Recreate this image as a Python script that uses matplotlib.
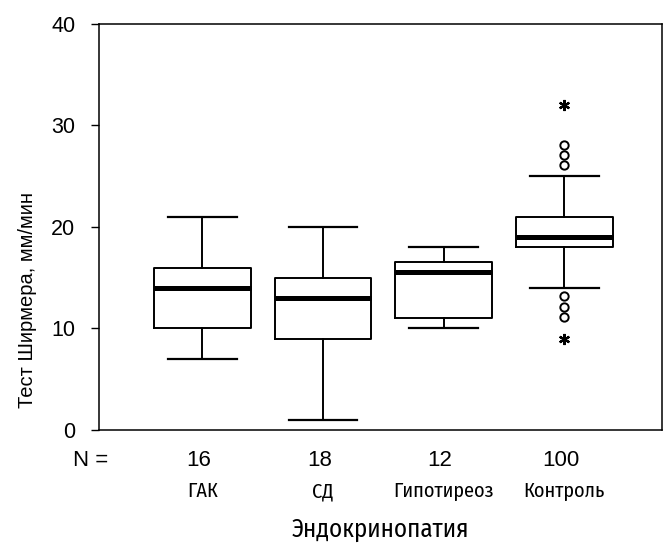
import matplotlib as mpl
mpl.use('agg')
import matplotlib.pyplot as plt
import matplotlib.transforms as mtransforms

# groups and sample sizes
groups = ['ГАК', 'СД', 'Гипотиреоз', 'Контроль']
n_values = ['16', '18', '12', '100']

# box statistics
whislo = [7, 1, 10, 14]
q1 = [10, 9, 11, 18]
med = [14, 13, 15.6, 19]
q3 = [16, 15, 16.5, 21]
whishi = [21, 20, 18, 25]

# outliers (circles) and extremes (stars) of the control group
outliers = [28.1, 27.1, 26.1, 13.2, 12.1, 11.1]
extremes = [32, 9]

plt.rcParams['font.family'] = ['Liberation Sans', 'DejaVu Sans']
narrow = ['Fira Sans Condensed', 'DejaVu Sans']

fig = plt.figure(figsize=(6.64, 5.44), dpi=100)
ax = fig.add_axes([0.149, 0.2096, 0.848, 0.7464])

positions = list(range(1, len(groups) + 1))
stats = []
for i in range(len(groups)):
    stats.append(dict(whislo=whislo[i], q1=q1[i], med=med[i], q3=q3[i],
                      whishi=whishi[i],
                      fliers=outliers if i == 3 else []))

ax.bxp(stats, positions=positions, widths=0.8, capwidths=0.57,
       boxprops=dict(color='black', linewidth=1.4),
       whiskerprops=dict(color='black', linewidth=1.4),
       capprops=dict(color='black', linewidth=1.6),
       medianprops=dict(color='black', linewidth=3.6, solid_capstyle='butt'),
       flierprops=dict(marker='o', markersize=6, markerfacecolor='white',
                       markeredgecolor='black', markeredgewidth=1.4,
                       linestyle='none'))
ax.plot([positions[3]] * len(extremes), extremes, linestyle='none',
        marker=(6, 2, 0), markersize=8, color='black', markeredgewidth=1.6)

ax.set_xlim(0.143, 4.81)
ax.set_ylim(0, 40)
ax.set_yticks([0, 10, 20, 30, 40])
ax.tick_params(axis='y', direction='out', length=6, width=1, labelsize=15.5,
               pad=11)
ax.set_xticks([])
for s in ax.spines.values():
    s.set_linewidth(1.1)

# axes fraction for a pixel row / column of the figure
def yfrac(py):
    return (430 - py) / 406

def xfrac(px):
    return (px - 99) / 563

trans = mtransforms.blended_transform_factory(ax.transData, ax.transAxes)
for p, n, g in zip(positions, n_values, groups):
    ax.text(p - 0.03, yfrac(461), n, transform=trans, ha='center',
            va='center', fontsize=16)
    ax.text(p, yfrac(497), g, transform=trans, ha='center', va='baseline',
            family=narrow, fontsize=14.5)
ax.text(xfrac(91), yfrac(461), 'N =', transform=ax.transAxes, ha='center',
        va='center', fontsize=16)

ax.text(0.5, yfrac(537), 'Эндокринопатия', transform=ax.transAxes,
        ha='center', va='baseline', family=narrow, fontsize=18)
fig.text(28 / 664, 1 - 300 / 544, 'Тест Ширмера, мм/мин', rotation=90,
         ha='center', va='center', fontsize=14.5)

fig.savefig('out.png', dpi=100)
